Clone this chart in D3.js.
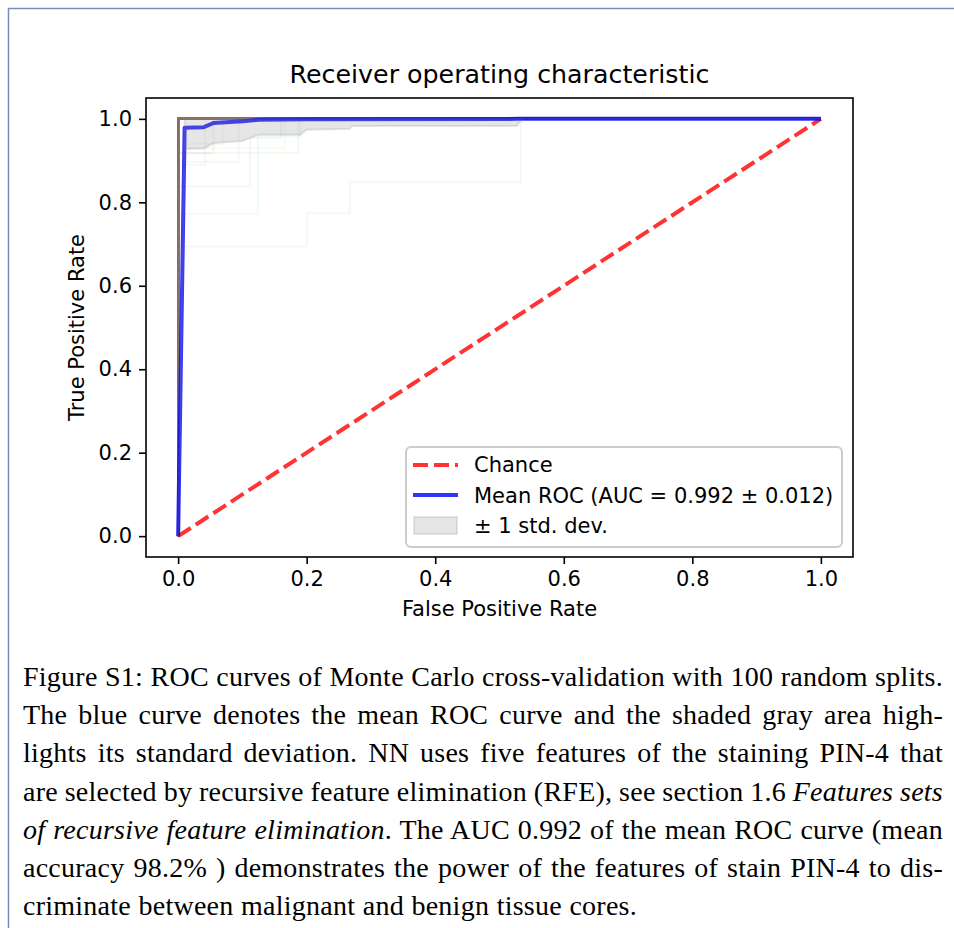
<!DOCTYPE html>
<html>
<head>
<meta charset="utf-8">
<script src="https://cdn.jsdelivr.net/npm/d3@7"></script>
<style>
  body { margin: 0; background: #fff; }
</style>
</head>
<body>
<div id="chart"></div>
<script>
// ---- data ----
var tickValues = [0.0, 0.2, 0.4, 0.6, 0.8, 1.0];

// mean ROC (blue)
var meanFpr = [0, 0.0101, 0.04, 0.055, 0.10, 0.125, 0.20, 0.53, 1.0];
var meanTpr = [0, 0.979, 0.980, 0.990, 0.994, 0.998, 0.999, 1.0, 1.0];

// +/- 1 std band (gray)
var stdFpr   = [0, 0.0101, 0.04, 0.055, 0.10, 0.112, 0.125, 0.19, 0.20, 0.267, 0.27, 0.527, 0.535, 1.0];
var stdLower = [0, 0.928, 0.929, 0.942, 0.947, 0.954, 0.962, 0.962, 0.974, 0.976, 0.983, 0.983, 1.0, 1.0];
var stdUpper = [0, 1, 1, 1, 1, 1, 1, 1, 1, 1, 1, 1, 1, 1];

// folds with a perfect ROC (0,0)-(0,1)-(1,1)
var perfectFpr = [0, 0, 1];
var perfectTpr = [0, 1, 1];
var perfectCount = 86;

// folds that are not perfect: [fpr, tpr, color index]
var foldRocs = [
  [[0, 0, 0.2, 0.2, 0.267, 0.267, 0.533, 0.533, 1], [0, 0.694, 0.694, 0.774, 0.774, 0.848, 0.848, 1, 1], 0],
  [[0, 0, 0.124, 0.124, 0.19, 0.19, 1], [0, 0.772, 0.772, 0.958, 0.958, 1, 1], 9],
  [[0, 0, 0.112, 0.112, 0.16, 0.16, 1], [0, 0.838, 0.838, 0.955, 0.955, 1, 1], 0],
  [[0, 0, 0.094, 0.094, 1], [0, 0.897, 0.897, 1, 1], 4],
  [[0, 0, 0.055, 0.055, 1], [0, 0.918, 0.918, 1, 1], 3],
  [[0, 0, 0.187, 0.187, 1], [0, 0.918, 0.918, 1, 1], 2],
  [[0, 0, 0.166, 0.166, 1], [0, 0.93, 0.93, 1, 1], 8],
  [[0, 0, 0.042, 0.042, 1], [0, 0.89, 0.89, 1, 1], 7],
  [[0, 0, 0.07, 0.07, 1], [0, 0.94, 0.94, 1, 1], 6]
];

var legendLabels = ["Chance", "Mean ROC (AUC = 0.992 \u00b1 0.012)", "\u00b1 1 std. dev."];

var captionLines = [
  [["Figure S1: ROC curves of Monte Carlo cross-validation with 100 random splits.", false]],
  [["The blue curve denotes the mean ROC curve and the shaded gray area high-", false]],
  [["lights its standard deviation. NN uses five features of the staining PIN-4 that", false]],
  [["are selected by recursive feature elimination (RFE), see section 1.6 ", false], ["Features sets", true]],
  [["of recursive feature elimination", true], [". The AUC 0.992 of the mean ROC curve (mean", false]],
  [["accuracy 98.2% ) demonstrates the power of the features of stain PIN-4 to dis-", false]],
  [["criminate between malignant and benign tissue cores.", false]]
];

var tab10 = ['#1f77b4', '#ff7f0e', '#2ca02c', '#d62728', '#9467bd', '#8c564b', '#e377c2', '#7f7f7f', '#bcbd22', '#17becf'];

// ---- layout ----
var W = 954, H = 928;
var plot = {left: 146, top: 98, right: 853, bottom: 557};

var svg = d3.select("#chart").append("svg")
    .attr("width", W)
    .attr("height", H)
    .style("font-family", "'DejaVu Sans', sans-serif");

// page frame
svg.append("path")
    .attr("d", "M8.5," + H + "V8.5H" + W)
    .attr("fill", "none")
    .attr("stroke", "#7391b5")
    .attr("stroke-width", 1.5);

var x = d3.scaleLinear().domain([-0.05, 1.05]).range([plot.left, plot.right]);
var y = d3.scaleLinear().domain([-0.05, 1.05]).range([plot.bottom, plot.top]);

svg.append("clipPath").attr("id", "clip")
  .append("rect")
    .attr("x", plot.left).attr("y", plot.top)
    .attr("width", plot.right - plot.left).attr("height", plot.bottom - plot.top);

var g = svg.append("g").attr("clip-path", "url(#clip)");

function pts(fpr, tpr) { return fpr.map(function(f, i) { return [f, tpr[i]]; }); }
var line = d3.line().x(function(d) { return x(d[0]); }).y(function(d) { return y(d[1]); });

// individual folds
foldRocs.forEach(function(f) {
  g.append("path")
    .attr("d", line(pts(f[0], f[1])))
    .attr("fill", "none")
    .attr("stroke", tab10[f[2]])
    .attr("stroke-opacity", 0.06)
    .attr("stroke-width", 2);
});
for (var i = 0; i < perfectCount; i++) {
  g.append("path")
    .attr("d", line(pts(perfectFpr, perfectTpr)))
    .attr("fill", "none")
    .attr("stroke", tab10[i % 10])
    .attr("stroke-opacity", 0.12)
    .attr("stroke-width", 2);
}

// chance
g.append("path")
    .attr("d", line([[0, 0], [1, 1]]))
    .attr("fill", "none")
    .attr("stroke", "red")
    .attr("stroke-opacity", 0.8)
    .attr("stroke-width", 4)
    .attr("stroke-dasharray", "15,6");

// mean ROC
g.append("path")
    .attr("d", line(pts(meanFpr, meanTpr)))
    .attr("fill", "none")
    .attr("stroke", "blue")
    .attr("stroke-opacity", 0.8)
    .attr("stroke-width", 4)
    .attr("stroke-linejoin", "round");

// std band
var area = d3.area()
    .x(function(d, i) { return x(stdFpr[i]); })
    .y0(function(d, i) { return y(stdLower[i]); })
    .y1(function(d, i) { return y(stdUpper[i]); });
g.append("path")
    .attr("d", area(stdFpr))
    .attr("fill", "grey")
    .attr("fill-opacity", 0.2)
    .attr("stroke", "grey")
    .attr("stroke-opacity", 0.2)
    .attr("stroke-width", 2);

// axes
var xAxis = svg.append("g")
    .attr("transform", "translate(0," + plot.bottom + ")")
    .call(d3.axisBottom(x).tickValues(tickValues).tickFormat(d3.format(".1f"))
      .tickSize(7).tickPadding(7).tickSizeOuter(0));
var yAxis = svg.append("g")
    .attr("transform", "translate(" + plot.left + ",0)")
    .call(d3.axisLeft(y).tickValues(tickValues).tickFormat(d3.format(".1f"))
      .tickSize(7).tickPadding(7).tickSizeOuter(0));
[xAxis, yAxis].forEach(function(a) {
  a.select(".domain").remove();
  a.selectAll(".tick line").attr("stroke", "#000").attr("stroke-width", 1.6);
  a.selectAll(".tick text")
    .attr("fill", "#000")
    .style("font-family", "'DejaVu Sans', sans-serif")
    .style("font-size", "21px");
});

svg.append("rect")
    .attr("x", plot.left).attr("y", plot.top)
    .attr("width", plot.right - plot.left).attr("height", plot.bottom - plot.top)
    .attr("fill", "none")
    .attr("stroke", "#000")
    .attr("stroke-width", 1.6);

// titles
svg.append("text")
    .attr("x", (plot.left + plot.right) / 2).attr("y", 83)
    .attr("text-anchor", "middle")
    .style("font-size", "25.3px")
    .text("Receiver operating characteristic");

svg.append("text")
    .attr("x", (plot.left + plot.right) / 2).attr("y", 616)
    .attr("text-anchor", "middle")
    .style("font-size", "21px")
    .text("False Positive Rate");

svg.append("text")
    .attr("transform", "translate(84," + (plot.top + plot.bottom) / 2 + ") rotate(-90)")
    .attr("text-anchor", "middle")
    .style("font-size", "21px")
    .text("True Positive Rate");

// legend
var lg = svg.append("g");
lg.append("rect")
    .attr("x", 406).attr("y", 447)
    .attr("width", 436).attr("height", 100)
    .attr("rx", 5)
    .attr("fill", "#fff").attr("fill-opacity", 0.8)
    .attr("stroke", "#cccccc").attr("stroke-width", 2);

lg.append("line")
    .attr("x1", 413).attr("x2", 458).attr("y1", 465).attr("y2", 465)
    .attr("stroke", "red").attr("stroke-opacity", 0.8)
    .attr("stroke-width", 4).attr("stroke-dasharray", "15,6");
lg.append("line")
    .attr("x1", 413).attr("x2", 458).attr("y1", 495).attr("y2", 495)
    .attr("stroke", "blue").attr("stroke-opacity", 0.8)
    .attr("stroke-width", 4);
lg.append("rect")
    .attr("x", 414).attr("y", 517).attr("width", 43).attr("height", 17)
    .attr("fill", "grey").attr("fill-opacity", 0.2)
    .attr("stroke", "grey").attr("stroke-opacity", 0.2).attr("stroke-width", 2);

lg.selectAll("text.leg")
    .data(legendLabels)
  .enter().append("text")
    .attr("class", "leg")
    .attr("x", 474)
    .attr("y", function(d, i) { return 472 + i * 30.5; })
    .style("font-size", "21px")
    .text(function(d) { return d; });

// caption (justified like the LaTeX source)
var cap = svg.append("g")
    .style("font-family", "'Liberation Serif', 'DejaVu Serif', serif")
    .style("font-size", "28px")
    .style("letter-spacing", "0.25px")
    .attr("fill", "#000");

captionLines.forEach(function(parts, i) {
  var t = cap.append("text")
      .attr("x", 23)
      .attr("y", 686 + i * 38.2);
  parts.forEach(function(p) {
    t.append("tspan")
      .style("font-style", p[1] ? "italic" : "normal")
      .text(p[0]);
  });
  var target = (i === captionLines.length - 1) ? 614 : 920;
  var natural = t.node().getComputedTextLength();
  var spaces = parts.map(function(p) { return p[0]; }).join("").split(" ").length - 1;
  if (spaces > 0) t.style("word-spacing", ((target - natural) / spaces) + "px");
});
</script>
</body>
</html>
